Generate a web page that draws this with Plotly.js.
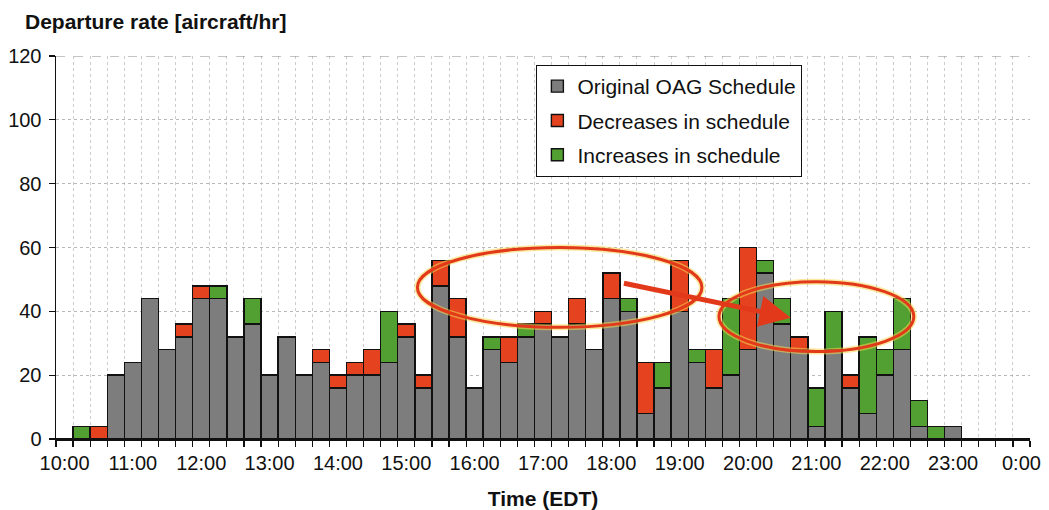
<!DOCTYPE html>
<html>
<head>
<meta charset="utf-8">
<script src="https://cdn.plot.ly/plotly-3.0.1.min.js"></script>
<style>html,body{margin:0;padding:0;background:#fff;}#chart{width:1049px;height:510px;}</style>
</head>
<body>
<div id="chart"></div>
<script>
// 15-minute time bins from 10:00 to 0:00
const timeLabels = ["10:00","10:15","10:30","10:45","11:00","11:15","11:30","11:45",
  "12:00","12:15","12:30","12:45","13:00","13:15","13:30","13:45",
  "14:00","14:15","14:30","14:45","15:00","15:15","15:30","15:45",
  "16:00","16:15","16:30","16:45","17:00","17:15","17:30","17:45",
  "18:00","18:15","18:30","18:45","19:00","19:15","19:30","19:45",
  "20:00","20:15","20:30","20:45","21:00","21:15","21:30","21:45",
  "22:00","22:15","22:30","22:45","23:00","23:15","23:30","23:45","0:00"];

// Departure rate [aircraft/hr]
const originalOAG = [0,0,0,20,24,44,28,32,44,44,32,36,20,32,20,24,
  16,20,20,24,32,16,48,32,16,28,24,32,36,32,36,28,
  44,40,8,16,40,24,16,20,28,52,36,28,4,28,16,8,
  20,28,4,0,4,0,0,0,0];
const decreases = [0,0,4,0,0,0,0,4,4,0,0,0,0,0,0,4,
  4,4,8,0,4,4,8,12,0,0,8,0,4,0,8,0,
  8,0,16,0,16,0,12,0,32,0,0,4,0,0,4,0,
  0,0,0,0,0,0,0,0,0];
const increases = [0,4,0,0,0,0,0,0,0,4,0,8,0,0,0,0,
  0,0,0,16,0,0,0,0,0,4,0,4,0,0,0,0,
  0,4,0,8,0,4,0,24,0,4,8,0,12,12,0,24,
  8,16,8,4,0,0,0,0,0];

const hourTickIndex = [0,4,8,12,16,20,24,28,32,36,40,44,48,52,56];

// Hand-drawn highlight marks (data coordinates)
const ellipseA = {x0: 20.65, x1: 37.3, y0: 35.0, y1: 60.0};
const ellipseB = {x0: 38.3, x1: 49.7, y0: 27.4, y1: 49.3};
const arrowTail = {x: 32.65, y: 48.9};
const arrowHead = {x: 42.5, y: 38.0};

const xIdx = timeLabels.map((_, i) => i);
const lineStyle = {color: '#111', width: 1.4};

const traces = [
  {type: 'bar', name: 'Original OAG Schedule', x: xIdx, y: originalOAG,
   marker: {color: '#7d7d7d', line: lineStyle}, legendgroup: 'a', hoverinfo: 'skip'},
  {type: 'bar', name: 'Decreases in schedule', x: xIdx, y: decreases,
   marker: {color: '#e5431f', line: lineStyle}, legendgroup: 'b', hoverinfo: 'skip'},
  {type: 'bar', name: 'Increases in schedule', x: xIdx, y: increases,
   marker: {color: '#52a031', line: lineStyle}, legendgroup: 'c', hoverinfo: 'skip'}
];

const red = '#e2391b';
function ell(e, color, w) {
  return {type: 'circle', xref: 'x', yref: 'y', x0: e.x0, x1: e.x1, y0: e.y0, y1: e.y1,
          line: {color: color, width: w}, layer: 'above'};
}

const layout = {
  width: 1049, height: 510,
  margin: {l: 56, r: 19, t: 56, b: 71},
  paper_bgcolor: '#fff', plot_bgcolor: '#fff',
  barmode: 'stack', bargap: 0,
  font: {family: 'Liberation Sans, Arial, sans-serif', color: '#111', size: 20},
  title: {text: 'Departure rate [aircraft/hr]', x: 25/1049, xanchor: 'left', xref: 'container',
          y: 1 - 22/510, yanchor: 'middle', yref: 'container',
          font: {family: 'Liberation Sans, Arial, sans-serif', size: 21, weight: 'bold', color: '#111'}},
  showlegend: true,
  legend: {x: 0.493, y: 0.977, xanchor: 'left', yanchor: 'top',
           bgcolor: '#fff', bordercolor: '#111', borderwidth: 1.2,
           traceorder: 'grouped', tracegroupgap: 4,
           font: {size: 21, color: '#111'}, itemwidth: 30},
  xaxis: {
    range: [-0.5, 56.5], fixedrange: true,
    tickmode: 'array', tickvals: hourTickIndex, ticktext: hourTickIndex.map(i => timeLabels[i]),
    ticks: '', showgrid: false, zeroline: false,
    showline: true, linecolor: '#111', linewidth: 1.5,
    tickfont: {size: 20, color: '#111'}, ticklabelstandoff: 5,
    minor: {tick0: -0.5, dtick: 1, ticks: 'outside', ticklen: 6, tickcolor: '#111', tickwidth: 1.2,
            showgrid: true, gridcolor: '#cccccc', griddash: 'dot', gridwidth: 1},
    title: {text: 'Time (EDT)', standoff: 20,
            font: {size: 21, weight: 'bold', color: '#111'}}
  },
  yaxis: {
    range: [0, 120], fixedrange: true, tickmode: 'linear', tick0: 0, dtick: 20,
    ticks: 'outside', ticklen: 6, tickcolor: '#111', tickwidth: 1.2,
    showline: true, linecolor: '#111', linewidth: 1.5, zeroline: false,
    showgrid: true, gridcolor: '#b8b8b8', griddash: 'dot', gridwidth: 1,
    tickfont: {size: 20, color: '#111'}, ticklabelstandoff: 3
  },
  shapes: [
    {type: 'line', xref: 'paper', yref: 'y', x0: 0, x1: 1, y0: 120, y1: 120,
     line: {color: '#8a8a8a', width: 1.2, dash: 'dash'}, layer: 'above'},
    ell(ellipseA, 'rgba(245,215,80,0.55)', 6),
    ell(ellipseB, 'rgba(245,215,80,0.55)', 6),
    ell(ellipseA, red, 3),
    ell(ellipseB, red, 3)
  ],
  annotations: [
    {x: arrowHead.x, y: arrowHead.y, xref: 'x', yref: 'y',
     ax: arrowTail.x, ay: arrowTail.y, axref: 'x', ayref: 'y',
     text: '', showarrow: true, arrowhead: 2, arrowsize: 1.25, arrowwidth: 5,
     arrowcolor: red, standoff: 0}
  ]
};

Plotly.newPlot('chart', traces, layout, {displayModeBar: false, staticPlot: true});
</script>
</body>
</html>
